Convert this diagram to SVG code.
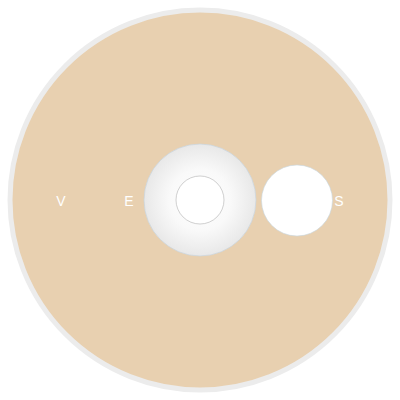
<svg xmlns="http://www.w3.org/2000/svg" width="400" height="400" viewBox="0 0 400 400">
<defs>
<radialGradient id="hub" cx="200" cy="200" r="56" gradientUnits="userSpaceOnUse">
<stop offset="0" stop-color="#ffffff"/>
<stop offset="0.55" stop-color="#f9f9f9"/>
<stop offset="1" stop-color="#e8e8e8"/>
</radialGradient>
<style>
.lbl{font-family:"Liberation Sans",Arial,sans-serif;font-size:14px;fill:#ffffff;text-anchor:middle;dominant-baseline:central}
</style>
</defs>
<rect width="400" height="400" fill="#ffffff"/>
<g id="disc">
<circle cx="200" cy="200" r="190" fill="#e8d0b0" stroke="#ececec" stroke-width="5"/>
</g>
<g id="hub-node">
<circle cx="200" cy="200" r="56" fill="url(#hub)" stroke="#c8d4dc" stroke-width="0.7"/>
<circle cx="200" cy="200" r="24" fill="#ffffff" stroke="#b0b0b0" stroke-width="0.6"/>
</g>
<g id="s-node">
<circle cx="297" cy="200.5" r="35.5" fill="#ffffff" stroke="#c8d8e4" stroke-width="0.6"/>
</g>
<g id="labels">
<text class="lbl" x="61" y="201">V</text>
<text class="lbl" x="129" y="201">E</text>
<text class="lbl" x="339" y="201">S</text>
</g>
<g id="connectors"></g>
</svg>
